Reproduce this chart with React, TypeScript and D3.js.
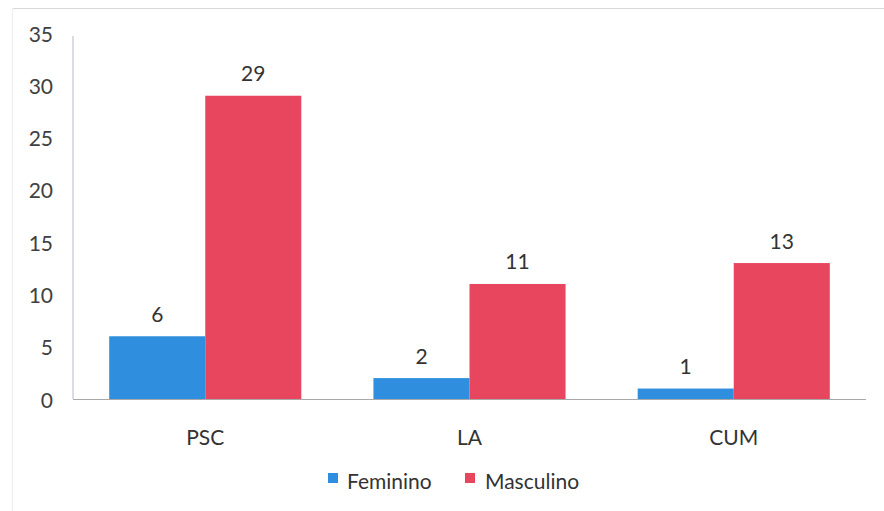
import React from "react";
import * as d3 from "d3";

const categories = ["PSC", "LA", "CUM"];
const feminino = [6, 2, 1];
const masculino = [29, 11, 13];
const seriesNames = ["Feminino", "Masculino"];
const yTicks = [0, 5, 10, 15, 20, 25, 30, 35];

const W = 884;
const H = 511;
const colors = ["#2f8fde", "#e8455e"];
const FONT = "Lato, 'Open Sans', sans-serif";
const FS = 21;

export default function App() {
  const left = 73, right = 866, top = 33, bottom = 399;
  const x = d3.scaleBand<string>().domain(categories).range([left, right]).paddingInner(0.273).paddingOuter(0.137);
  const x1 = d3.scaleBand<string>().domain(seriesNames).range([0, x.bandwidth()]);
  const y = d3.scaleLinear().domain([0, 35]).range([bottom, top]);
  const series = [feminino, masculino];

  return (
    <svg width={W} height={H} style={{ position: "absolute", left: 0, top: 0, background: "#fff" }}>
      <rect x={0} y={0} width={W} height={H} fill="#fff" />
      <line x1={12} x2={W} y1={8.5} y2={8.5} stroke="#d8d8d8" strokeWidth={1} />
      <line x1={12.5} x2={12.5} y1={8} y2={H} stroke="#eeeeee" strokeWidth={1} />
      {/* axes */}
      <line x1={left} x2={left} y1={36} y2={bottom} stroke="#b8b8c8" strokeWidth={1} />
      <line x1={left} x2={right} y1={bottom + 0.5} y2={bottom + 0.5} stroke="#a8a8a8" strokeWidth={1} />
      {yTicks.map((t) => (
        <text key={t} x={53} y={y(t)} textAnchor="end" dominantBaseline="central" fontFamily={FONT} fontSize={FS} fill="#404040">
          {t}
        </text>
      ))}
      {categories.map((c, i) => (
        <g key={c}>
          {series.map((s, j) => {
            const bx = (x(c) as number) + (x1(seriesNames[j]) as number);
            const bw = x1.bandwidth();
            return (
              <g key={j}>
                <rect x={bx} y={y(s[i])} width={bw} height={bottom - y(s[i])} fill={colors[j]} />
                <text x={bx + bw / 2} y={y(s[i]) - 23} textAnchor="middle" dominantBaseline="central" fontFamily={FONT} fontSize={FS} fill="#333">
                  {s[i]}
                </text>
              </g>
            );
          })}
          <text x={(x(c) as number) + x.bandwidth() / 2} y={436} textAnchor="middle" dominantBaseline="central" fontFamily={FONT} fontSize={FS} fill="#333">
            {c}
          </text>
        </g>
      ))}
      {/* legend */}
      <rect x={328} y={473} width={10} height={10} fill={colors[0]} />
      <text x={347} y={480} dominantBaseline="central" fontFamily={FONT} fontSize={FS} fill="#333">{seriesNames[0]}</text>
      <rect x={465} y={473} width={10} height={10} fill={colors[1]} />
      <text x={485} y={480} dominantBaseline="central" fontFamily={FONT} fontSize={FS} fill="#333">{seriesNames[1]}</text>
    </svg>
  );
}
